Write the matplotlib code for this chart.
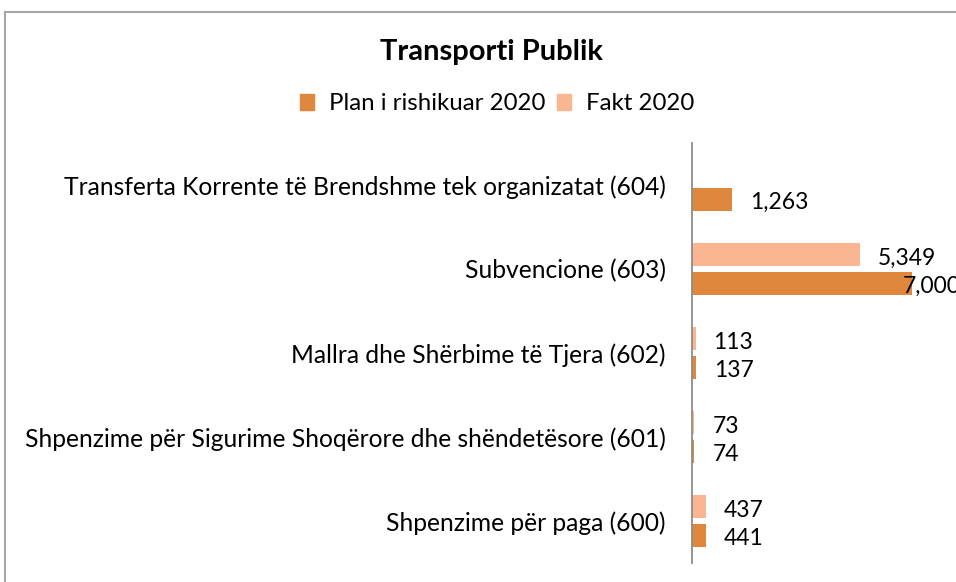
import numpy as np
import matplotlib
matplotlib.use("Agg")
import matplotlib.pyplot as plt
from matplotlib.lines import Line2D
from matplotlib.patches import Patch

plt.rcParams['font.family'] = ['Lato', 'DejaVu Sans']

categories = ["Shpenzime për paga (600)",
              "Shpenzime për Sigurime Shoqërore dhe shëndetësore (601)",
              "Mallra dhe Shërbime të Tjera (602)",
              "Subvencione (603)",
              "Transferta Korrente të Brendshme tek organizatat (604)"]
plan = [441, 74, 137, 7000, 1263]
fakt = [437, 73, 113, 5349, np.nan]
series_names = ["Plan i rishikuar 2020", "Fakt 2020"]
c_plan = '#DF873D'
c_fakt = '#F9B690'

W, H = 956, 582
fig = plt.figure(figsize=(W/100, H/100), dpi=100)
ax = fig.add_axes([692/W, (H-563)/H, (W-692)/W, (563-143)/H])

y = np.arange(len(categories))
bh = 0.274
off = 0.167
ax.barh(y - off, plan, height=bh, color=c_plan)
ax.barh(y + off, fakt, height=bh, color=c_fakt)
ax.set_xlim(0, 8400)
ax.set_ylim(-0.5, 4.5)

for s in ['top', 'right', 'bottom']:
    ax.spines[s].set_visible(False)
ax.spines['left'].set_color('#8C8C8C')
ax.spines['left'].set_linewidth(1.3)
ax.set_xticks([])
ax.set_yticks(y)
ax.set_yticklabels(categories, fontsize=17.7)
ax.tick_params(axis='y', length=0, pad=19)

px_per_unit = (W - 692) / 8400.0
limit_px = 903 - 692
for vals, offs in ((plan, -off), (fakt, off)):
    for yi, v in zip(y, vals):
        if np.isnan(v):
            continue
        end_px = v * px_per_unit
        lab_px = min(end_px + 18, limit_px)
        dx = (lab_px - end_px) * 72 / 100.0
        ax.annotate(f"{v:,.0f}", xy=(v, yi + offs), xytext=(dx, -2.5),
                    textcoords='offset points', ha='left', va='center',
                    fontsize=16.5, annotation_clip=False)

fig.text(492/W, 1 - 52/H, "Transporti Publik", ha='center', va='center',
         fontsize=21, fontweight='bold')

handles = [Patch(color=c_plan), Patch(color=c_fakt)]
fig.legend(handles, series_names, loc='center', bbox_to_anchor=(497/W, 1 - 104/H),
           ncol=2, frameon=False, fontsize=17.3, handlelength=0.6, handleheight=0.6,
           handletextpad=0.6, columnspacing=0.5)

fig.add_artist(Line2D([5/W, 5/W], [0, 1 - 12/H], color='#A6A6A6', lw=1.5,
                      transform=fig.transFigure))
fig.add_artist(Line2D([5/W, 1], [1 - 12/H, 1 - 12/H], color='#A6A6A6', lw=1.5,
                      transform=fig.transFigure))

fig.savefig("out.png", dpi=100)
